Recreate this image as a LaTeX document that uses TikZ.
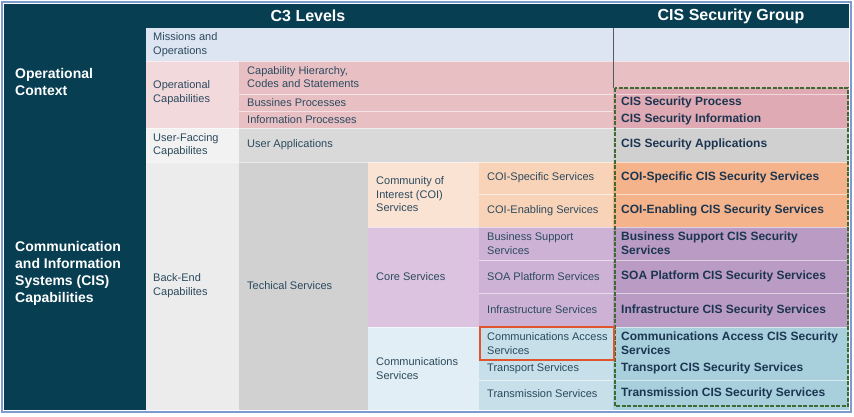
\documentclass[tikz,border=0pt]{standalone}
\usepackage{fontspec}
\setmainfont{Liberation Sans}
\usepackage{xcolor}
\usepackage{tikz}
\usetikzlibrary{positioning}

\definecolor{darkteal}{HTML}{073E52}
\definecolor{missionblue}{HTML}{DDE5F2}
\definecolor{oplight}{HTML}{F2D9DC}
\definecolor{oppink}{HTML}{E8C0C4}
\definecolor{opsec}{HTML}{DFAAB3}
\definecolor{uflight}{HTML}{F2F2F2}
\definecolor{ufgray}{HTML}{D9D9D9}
\definecolor{ufsec}{HTML}{D0D0D0}
\definecolor{belight}{HTML}{ECECEC}
\definecolor{begray}{HTML}{D1D1D1}
\definecolor{coilight}{HTML}{FBE3D3}
\definecolor{coipeach}{HTML}{F9D3B8}
\definecolor{coisec}{HTML}{F4B38A}
\definecolor{corelight}{HTML}{DCC3DF}
\definecolor{corepurple}{HTML}{CDB2D6}
\definecolor{coresec}{HTML}{B99BC4}
\definecolor{commlight}{HTML}{E2EEF5}
\definecolor{commblue}{HTML}{C6DFE9}
\definecolor{commsec}{HTML}{A7CFDC}
\definecolor{labeltext}{HTML}{2B4A5E}
\definecolor{sectext}{HTML}{1C3550}
\definecolor{boxgreen}{HTML}{3F6B33}
\definecolor{boxred}{HTML}{E0542E}
\definecolor{frameblue}{HTML}{7D9BD0}

\tikzset{
  lbl/.style={right, inner sep=0pt, align=left, text=labeltext, font=\fontsize{11}{13.5}\selectfont},
  seclbl/.style={right, inner sep=0pt, align=left, text=sectext, font=\fontsize{12}{14}\bfseries\selectfont},
  headlbl/.style={text=white, inner sep=0pt, font=\fontsize{16}{18}\bfseries\selectfont},
  sidelbl/.style={right, inner sep=0pt, align=left, text=white, font=\fontsize{14}{17}\bfseries\selectfont},
  sepline/.style={white, opacity=0.55, line width=0.6pt}
}

\begin{document}
\begin{tikzpicture}[x=1pt,y=-1pt]
    \useasboundingbox (0,0) rectangle (854,416);

    % Header and side column
    \fill[darkteal] (4,4) rectangle (849,28);
    \fill[darkteal] (4,28) rectangle (146,410);

    % Missions and operations
    \fill[missionblue] (146,28) rectangle (849,61);

    % Operational capabilities
    \fill[oplight] (146,61) rectangle (239,128);
    \fill[oppink] (239,61) rectangle (849,128);

    % User-facing capabilities
    \fill[uflight] (146,128) rectangle (239,162);
    \fill[ufgray] (239,128) rectangle (849,162);

    % Back-end capabilities
    \fill[belight] (146,162) rectangle (239,410);
    \fill[begray] (239,162) rectangle (368,410);
    \fill[coilight] (368,162) rectangle (479,227);
    \fill[coipeach] (479,162) rectangle (613,227);
    \fill[corelight] (368,227) rectangle (479,327);
    \fill[corepurple] (479,227) rectangle (613,327);
    \fill[commlight] (368,327) rectangle (479,410);
    \fill[commblue] (479,327) rectangle (613,410);

    % Security group column
    \fill[opsec] (613,88) rectangle (849,128);
    \fill[ufsec] (613,128) rectangle (849,162);
    \fill[coisec] (613,162) rectangle (849,227);
    \fill[coresec] (613,227) rectangle (849,327);
    \fill[commsec] (613,327) rectangle (849,410);

    % Row separators
    \draw[sepline] (146,61) -- (849,61);
    \draw[sepline] (239,94) -- (849,94);
    \draw[sepline] (239,111) -- (613,111);
    \draw[sepline] (146,128) -- (849,128);
    \draw[sepline] (146,162) -- (849,162);
    \draw[sepline] (479,194) -- (849,194);
    \draw[sepline] (368,227) -- (849,227);
    \draw[sepline] (479,260) -- (849,260);
    \draw[sepline] (479,293) -- (849,293);
    \draw[sepline] (368,327) -- (849,327);
    \draw[sepline] (479,380) -- (849,380);
    \draw[gray!70!black, line width=0.8pt] (613,28) -- (613,88);

    % Headers
    \node[headlbl] (c3levels) at (308,16) {C3 Levels};
    \node[headlbl] (cisgroup) at (731,16) {CIS Security Group};
    \node[sidelbl] (opcontext) at (15,81.5) {Operational\\Context};
    \node[sidelbl] (cissystems) at (15,273) {Communication\\and Information\\Systems (CIS)\\Capabilities};

    % C3 level labels
    \node[lbl] (missions) at (153,44.5) {Missions and\\Operations};
    \node[lbl] (opcap) at (153,92.5) {Operational\\Capabilities};
    \node[lbl] (caphier) at (247,77) {Capability Hierarchy,\\Codes and Statements};
    \node[lbl] (busproc) at (247,102.5) {Bussines Processes};
    \node[lbl] (infoproc) at (247,119.5) {Information Processes};
    \node[lbl] (userfacing) at (153,145) {User-Faccing\\Capabilites};
    \node[lbl] (userapps) at (247,144.5) {User Applications};
    \node[lbl] (backend) at (153,285.5) {Back-End\\Capabilites};
    \node[lbl] (techserv) at (247,285.5) {Techical Services};
    \node[lbl] (coiserv) at (376,194.5) {Community of\\Interest (COI)\\Services};
    \node[lbl] (coispec) at (487,177.5) {COI-Specific Services};
    \node[lbl] (coienab) at (487,210.5) {COI-Enabling Services};
    \node[lbl] (coreserv) at (376,276.5) {Core Services};
    \node[lbl] (bussupp) at (487,243.5) {Business Support\\Services};
    \node[lbl] (soaplat) at (487,276.5) {SOA Platform Services};
    \node[lbl] (infraserv) at (487,310) {Infrastructure Services};
    \node[lbl] (commserv) at (376,368.5) {Communications\\Services};
    \node[lbl] (commaccess) at (487,343.5) {Communications Access\\Services};
    \node[lbl] (transport) at (487,368.5) {Transport Services};
    \node[lbl] (transmission) at (487,393.5) {Transmission Services};

    % Security group labels
    \node[seclbl] (secproc) at (621,102.5) {CIS Security Process};
    \node[seclbl] (secinfo) at (621,119.5) {CIS Security Information};
    \node[seclbl] (secapps) at (621,144.5) {CIS Security Applications};
    \node[seclbl] (seccoispec) at (621,177.5) {COI-Specific CIS Security Services};
    \node[seclbl] (seccoienab) at (621,210.5) {COI-Enabling CIS Security Services};
    \node[seclbl] (secbussupp) at (621,243.5) {Business Support CIS Security\\Services};
    \node[seclbl] (secsoa) at (621,276.5) {SOA Platform CIS Security Services};
    \node[seclbl] (secinfra) at (621,310) {Infrastructure CIS Security Services};
    \node[seclbl] (seccommacc) at (621,343.5) {Communications Access CIS Security\\Services};
    \node[seclbl] (sectransport) at (621,368.5) {Transport CIS Security Services};
    \node[seclbl] (sectransmission) at (621,393.5) {Transmission CIS Security Services};

    % Highlight boxes
    \draw[boxgreen, line width=1.6pt, dash pattern=on 4pt off 1.5pt] (615,88) rectangle (848,406);
    \draw[boxred, line width=1.4pt] (480,327) rectangle (614,360);

    % Frame
    \draw[frameblue, line width=1.8pt] (2,2) rectangle (851,412);
\end{tikzpicture}
\end{document}
